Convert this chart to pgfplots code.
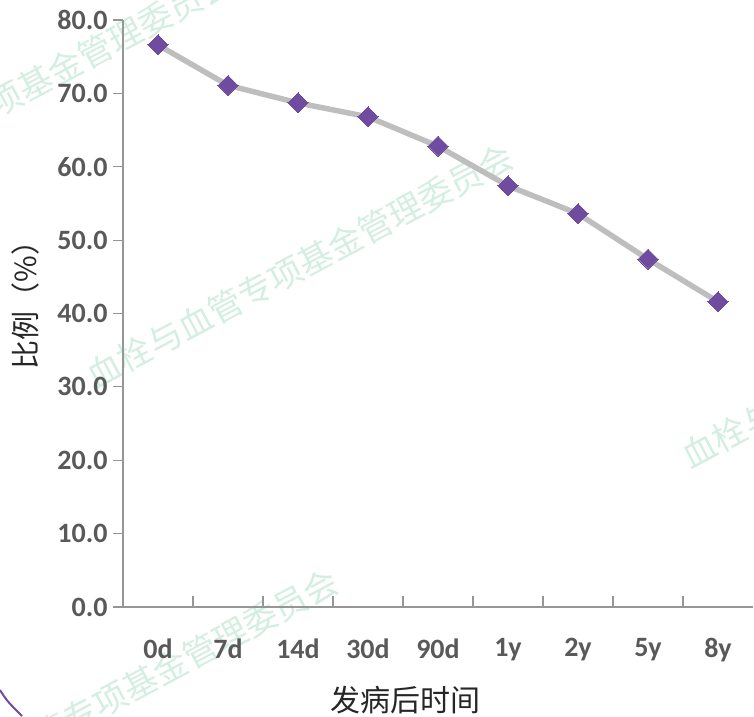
\documentclass[border=0pt]{standalone}
\usepackage{pgfplots}
\pgfplotsset{compat=1.18}
\usepackage{fontspec}
\setmainfont{Carlito}
\newfontfamily\cjk{Noto Sans CJK SC}
\definecolor{lab}{RGB}{89,89,89}
\definecolor{ax}{RGB}{150,150,150}
\definecolor{ln}{RGB}{190,190,190}
\definecolor{mk}{RGB}{112,76,160}
\definecolor{wm}{RGB}{212,238,226}
\begin{document}
\begin{tikzpicture}
\useasboundingbox (-123pt,-109pt) rectangle (631pt,607pt);
% watermarks
\begin{scope}[every node/.style={rotate=28, text=wm, font=\cjk\fontsize{34}{34}\selectfont}]
\node at (177pt,341pt) {血栓与血管专项基金管理委员会};
\node at (-103pt,516pt) {血栓与血管专项基金管理委员会};
\node at (2pt,-84pt) {血栓与血管专项基金管理委员会};
\node at (772pt,261pt) {血栓与血管专项基金管理委员会};
\end{scope}
\draw[mk, line width=2pt] (-123pt,-83pt) .. controls (-116pt,-94pt) .. (-101pt,-109pt);
\begin{axis}[
  scale only axis, width=630pt, height=587pt,
  xmin=-0.5, xmax=8.5, ymin=0, ymax=80,
  axis x line*=bottom, axis y line*=left,
  axis line style={ax, line width=1.2pt},
  xtick={0,...,8},
  xticklabels={0d,7d,14d,30d,90d,1y,2y,5y,8y},
  minor xtick={0.5,1.5,...,7.5},
  ytick={0,10,...,80},
  yticklabel={\pgfmathprintnumber[fixed,fixed zerofill,precision=1]{\tick}},
  /pgf/number format/assume math mode=true,
  tick align=outside,
  major tick length=10pt,
  minor tick length=11pt,
  x tick style={draw=none},
  minor x tick style={draw=ax, line width=1.2pt, yshift=11pt},
  y tick style={draw=ax, line width=1.2pt},
  tick label style={text=lab, font=\bfseries\fontsize{28}{28}\selectfont},
  yticklabel style={xshift=-2pt},
  xticklabel style={yshift=-18pt},
  clip=false,
]
\addplot[ln, line width=5.5pt, mark=square*, mark size=7.1pt,
  mark options={fill=mk, draw=mk, line width=0pt, rotate=45}]
  coordinates {(0,76.6) (1,71.1) (2,68.7) (3,66.8) (4,62.8) (5,57.4) (6,53.6) (7,47.4) (8,41.6)};
\end{axis}
\node[font=\cjk\fontsize{30}{30}\selectfont, text=black!85] at (282pt,-93pt) {发病后时间};
\node[rotate=90, font=\cjk\fontsize{29}{29}\selectfont, text=black!85] at (-98pt,309pt) {比例（\%）};
\end{tikzpicture}
\end{document}
